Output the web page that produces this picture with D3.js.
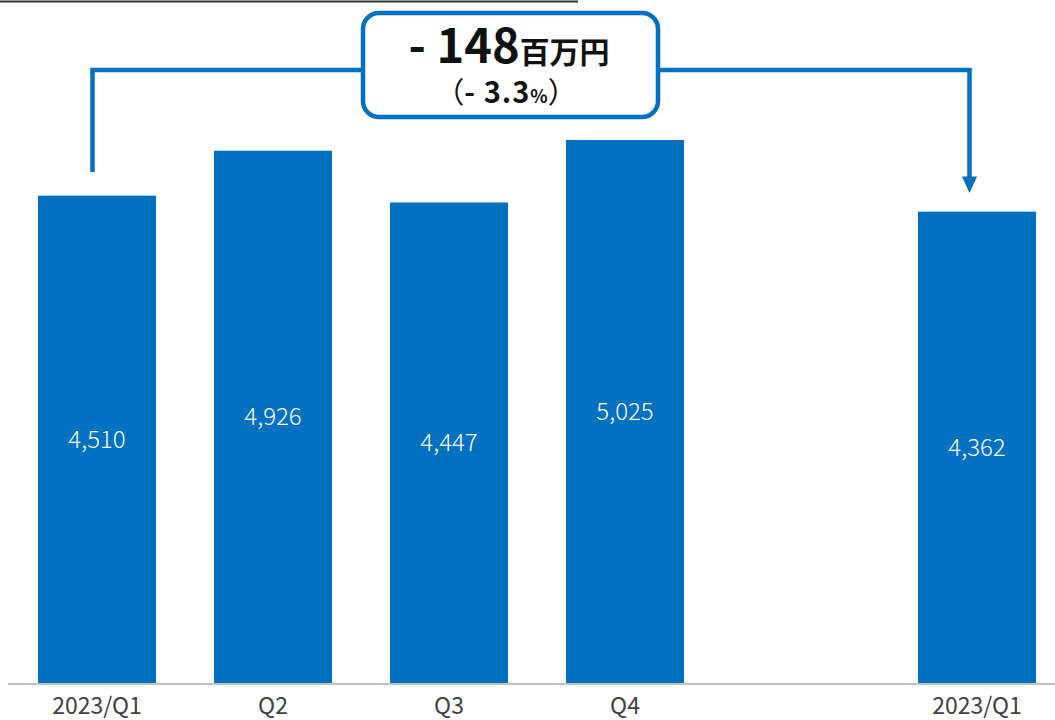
<!DOCTYPE html>
<html><head><meta charset="utf-8">
<script src="https://cdn.jsdelivr.net/npm/d3@7"></script>
<style>body{margin:0;background:#fff}svg{display:block}</style>
</head><body>
<script>
const categories = ["2023/Q1", "Q2", "Q3", "Q4", "", "2023/Q1"];
const values = [4510, 4926, 4447, 5025, null, 4362];
const diffMain = "- 148";
const diffUnit = "百万円";
const diffPctOpen = "（";
const diffPctMain = "- 3.3";
const diffPctUnit = "%";
const diffPctClose = "）";

const W = 1055, H = 720;
const blue = "#0070c0";
const svg = d3.select("body").append("svg").attr("width", W).attr("height", H);

const keys = categories.map((d, i) => i);
const x = d3.scaleBand().domain(keys).range([9, 1065]).paddingInner(0.33).paddingOuter(0.165);
const y = d3.scaleLinear().domain([0, 5025]).range([683, 140]);

// top decorative line
svg.append("line").attr("x1", 0).attr("x2", 578).attr("y1", 1.5).attr("y2", 1.5)
  .attr("stroke", "#333").attr("stroke-width", 2);

// bars
const data = keys.filter(i => values[i] != null).map(i => ({i, v: values[i]}));
svg.selectAll("rect.bar").data(data).join("rect").attr("class", "bar")
  .attr("x", d => x(d.i)).attr("width", x.bandwidth())
  .attr("y", d => y(d.v)).attr("height", d => y(0) - y(d.v))
  .attr("fill", blue);

svg.selectAll("text.val").data(data).join("text").attr("class", "val")
  .attr("x", d => x(d.i) + x.bandwidth() / 2)
  .attr("y", d => (y(d.v) + y(0)) / 2)
  .attr("dy", "0.35em")
  .attr("text-anchor", "middle")
  .attr("fill", "#fff")
  .attr("font-family", "'Noto Sans CJK JP', 'Noto Sans', sans-serif")
  .attr("font-weight", 300)
  .attr("font-size", 24)
  .text(d => d3.format(",")(d.v));

// axis
const axis = d3.axisBottom(x).tickSize(0).tickFormat(i => categories[i]);
const gx = svg.append("g").attr("transform", `translate(0,${y(0) + 1})`).call(axis);
gx.select(".domain").remove();
svg.append("line").attr("x1", 8).attr("x2", W).attr("y1", y(0) + 1).attr("y2", y(0) + 1)
  .attr("stroke", "#bfbfbf").attr("stroke-width", 2);
gx.selectAll("text").attr("y", 0).attr("dy", 30)
  .attr("font-family", "'Noto Sans CJK JP', 'Noto Sans', sans-serif")
  .attr("font-size", 23).attr("fill", "#404040");

// bracket
const xl = x(0) + x.bandwidth() / 2 - 4.5;
const xr = x(5) + x.bandwidth() / 2 - 7.5;
const yTop = 70;
svg.append("path")
  .attr("d", `M${xl},172 V${yTop} H${xr} V180`)
  .attr("fill", "none").attr("stroke", blue).attr("stroke-width", 4.5);
svg.append("path")
  .attr("d", `M${xr - 7.5},176.5 L${xr + 7.5},176.5 L${xr},193 Z`)
  .attr("fill", blue);

// box
svg.append("rect").attr("x", 363).attr("y", 13).attr("width", 295).attr("height", 104)
  .attr("rx", 16).attr("ry", 16)
  .attr("fill", "#fff").attr("stroke", blue).attr("stroke-width", 4.5);

const t1 = svg.append("text").attr("x", 509).attr("y", 63).attr("text-anchor", "middle")
  .attr("font-family", "'Noto Sans CJK JP', 'Noto Sans', sans-serif")
  .attr("font-weight", 700).attr("fill", "#111");
t1.append("tspan").attr("font-size", 47).text(diffMain);
t1.append("tspan").attr("font-size", 30).text(diffUnit);

const t2 = svg.append("text").attr("x", 506).attr("y", 103).attr("text-anchor", "middle")
  .attr("font-family", "'Noto Sans CJK JP', 'Noto Sans', sans-serif")
  .attr("font-weight", 700).attr("fill", "#111");
t2.append("tspan").attr("font-size", 29).attr("font-weight", 400).text(diffPctOpen);
t2.append("tspan").attr("font-size", 29).attr("letter-spacing", 1).text(diffPctMain);
t2.append("tspan").attr("font-size", 18).text(diffPctUnit);
t2.append("tspan").attr("font-size", 29).attr("font-weight", 400).text(diffPctClose);
</script>
</body></html>
